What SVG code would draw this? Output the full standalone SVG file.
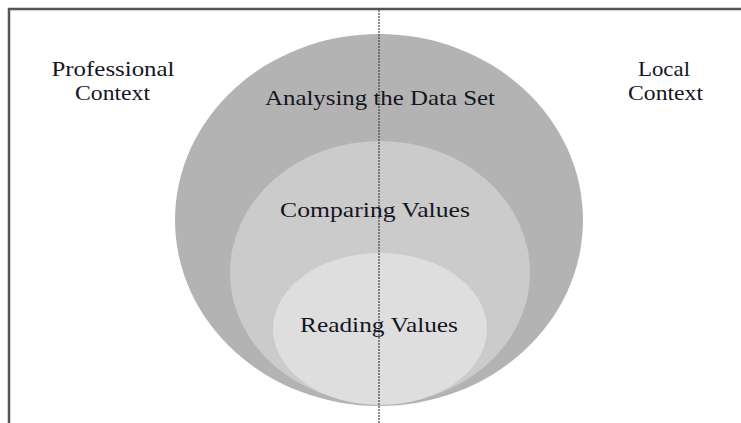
<svg xmlns="http://www.w3.org/2000/svg" width="741" height="423" viewBox="0 0 741 423">
  <style>
    .lbl { font-family: "Liberation Serif", "DejaVu Serif", serif; font-size: 22px; fill: #15151f; text-anchor: middle; }
    .frame { fill: none; stroke: #555; stroke-width: 2.5; }
  </style>
  <rect width="741" height="423" fill="#ffffff"/>
  <g id="frame">
    <path class="frame" d="M 9 423 L 9 9 L 741 9"/>
  </g>
  <g id="analysing">
    <ellipse cx="379" cy="220" rx="204" ry="186" fill="#b3b3b3"/>
  </g>
  <g id="comparing">
    <ellipse cx="380" cy="272.5" rx="150" ry="131.5" fill="#cbcbcb"/>
  </g>
  <g id="reading">
    <ellipse cx="380" cy="329" rx="107" ry="76" fill="#dedede"/>
  </g>
  <g id="connectors">
    <line x1="379" y1="10" x2="379" y2="423" stroke="#444" stroke-width="1.2" stroke-dasharray="2 1"/>
  </g>
  <g id="labels">
    <text class="lbl" x="113" y="76" textLength="123" lengthAdjust="spacingAndGlyphs">Professional</text>
    <text class="lbl" x="112.5" y="100" textLength="75" lengthAdjust="spacingAndGlyphs">Context</text>
    <text class="lbl" x="664" y="76" textLength="52" lengthAdjust="spacingAndGlyphs">Local</text>
    <text class="lbl" x="665.5" y="100" textLength="75" lengthAdjust="spacingAndGlyphs">Context</text>
    <text class="lbl" x="380" y="105" textLength="230" lengthAdjust="spacingAndGlyphs">Analysing the Data Set</text>
    <text class="lbl" x="375" y="217" textLength="190" lengthAdjust="spacingAndGlyphs">Comparing Values</text>
    <text class="lbl" x="379" y="332" textLength="158" lengthAdjust="spacingAndGlyphs">Reading Values</text>
  </g>
</svg>
